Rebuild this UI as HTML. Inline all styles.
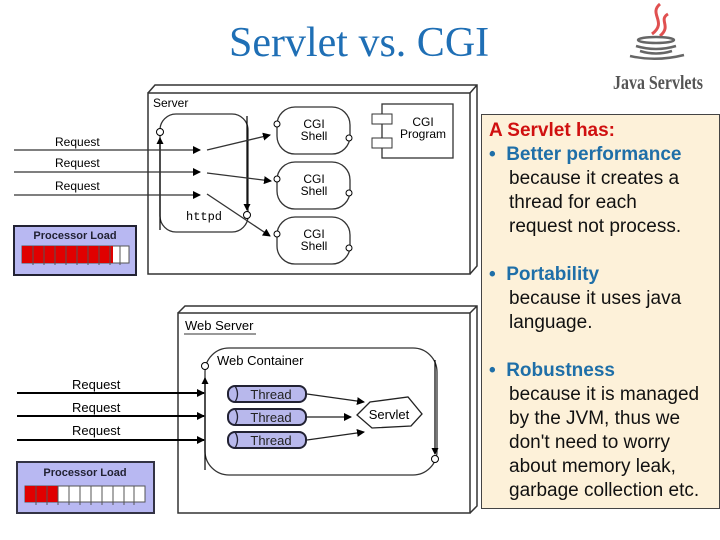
<!DOCTYPE html>
<html><head><style>
body{margin:0;width:720px;height:540px;background:#fff;overflow:hidden;position:relative;font-family:"Liberation Sans",sans-serif}
.t{position:absolute;left:229px;top:19px;font-family:"Liberation Serif",serif;font-size:42px;color:#1f6fb5;white-space:nowrap}
.box{position:absolute;left:481px;top:114px;width:239px;height:395px;background:#fdf1d9;border:1px solid #444;box-sizing:border-box;font-size:19px;line-height:24px;padding:4px 0 0 7px;color:#111;white-space:nowrap}
.box p{margin:0}
.r{color:#d01010;font-weight:bold}
.b{color:#1f6fa8;font-weight:bold}
.i{padding-left:20px}
</style></head><body>
<div class="t">Servlet vs. CGI</div>
<div class="box">
<p class="r">A Servlet has:</p>
<p><span class="b">•&nbsp;&nbsp;Better performance</span></p>
<p class="i">because it creates a<br>thread for each<br>request not process.</p>
<p style="height:24px"></p>
<p><span class="b">•&nbsp;&nbsp;Portability</span></p>
<p class="i">because it uses java<br>language.</p>
<p style="height:24px"></p>
<p><span class="b">•&nbsp;&nbsp;Robustness</span></p>
<p class="i">because it is managed<br>by the JVM, thus we<br>don't need to worry<br>about memory leak,<br>garbage collection etc.</p>
</div>
<svg width="720" height="540" style="position:absolute;left:0;top:0" font-family="Liberation Sans, sans-serif">
<defs><marker id="a" markerWidth="8" markerHeight="8" refX="7" refY="4" orient="auto" markerUnits="userSpaceOnUse"><path d="M0,0L8,4L0,8z" fill="#000"/></marker>
<marker id="s" markerWidth="7" markerHeight="7" refX="6" refY="3.5" orient="auto" markerUnits="userSpaceOnUse"><path d="M0,0L7,3.5L0,7z" fill="#000"/></marker></defs>
<g fill="none" stroke="#e05050" stroke-width="3"><path d="M660,4 C648,14 668,22 652,34"/><path d="M668,14 C658,20 672,26 660,36"/></g>
<g fill="none" stroke="#666" stroke-width="2.5"><ellipse cx="656" cy="40" rx="18" ry="3"/><path d="M636,46 Q656,52 676,46"/><path d="M640,51 Q656,56 672,51"/><path d="M630,56 Q656,62 684,55"/></g>
<text x="613" y="89" font-family="Liberation Serif, serif" font-weight="bold" font-size="20" fill="#555" textLength="90" lengthAdjust="spacingAndGlyphs">Java Servlets</text>
<g stroke="#333" fill="#fff" stroke-width="1.5">
<path d="M148,93 L155,85 L477,85 L477,266 L470,274 M470,93 L477,85" fill="#fff"/>
<rect x="148" y="93" width="322" height="181"/>
</g>
<text x="153" y="107" font-size="12">Server</text>
<rect x="160" y="114" width="88" height="118" rx="16" fill="none" stroke="#333" stroke-width="1.3"/>
<text x="186" y="220" font-family="Liberation Mono, monospace" font-size="12">httpd</text>
<line x1="160" y1="230" x2="160" y2="138" stroke="#000" stroke-width="1.2" marker-end="url(#s)"/>
<circle cx="160" cy="132" r="3.5" fill="#fff" stroke="#000"/>
<line x1="247" y1="116" x2="247" y2="210" stroke="#000" stroke-width="1.2" marker-end="url(#s)"/>
<circle cx="247" cy="215" r="3.5" fill="#fff" stroke="#000"/>
<g font-size="12" text-anchor="middle">
<g stroke="#333" fill="none" stroke-width="1.3">
<rect x="277" y="107" width="73" height="47" rx="18"/><rect x="277" y="162" width="73" height="47" rx="18"/><rect x="277" y="217" width="73" height="47" rx="18"/>
</g>
<text x="314" y="128">CGI</text><text x="314" y="140">Shell</text>
<text x="314" y="183">CGI</text><text x="314" y="195">Shell</text>
<text x="314" y="238">CGI</text><text x="314" y="250">Shell</text>
</g>
<g fill="#fff" stroke="#000"><circle cx="277" cy="124" r="3"/><circle cx="349" cy="138" r="3"/><circle cx="277" cy="179" r="3"/><circle cx="349" cy="193" r="3"/><circle cx="277" cy="234" r="3"/><circle cx="349" cy="248" r="3"/></g>
<rect x="382" y="104" width="71" height="54" fill="#fff" stroke="#333" stroke-width="1.3"/>
<rect x="372" y="114" width="20" height="10" fill="#fff" stroke="#333"/><rect x="372" y="138" width="20" height="10" fill="#fff" stroke="#333"/>
<text x="423" y="126" font-size="12" text-anchor="middle">CGI</text><text x="423" y="138" font-size="12" text-anchor="middle">Program</text>
<g stroke="#333" stroke-width="1.3"><line x1="14" y1="150" x2="200" y2="150" marker-end="url(#a)"/><line x1="14" y1="172" x2="200" y2="172" marker-end="url(#a)"/><line x1="14" y1="195" x2="200" y2="195" marker-end="url(#a)"/>
<line x1="207" y1="150" x2="270" y2="135" marker-end="url(#a)"/><line x1="207" y1="173" x2="271" y2="181" marker-end="url(#a)"/><line x1="207" y1="194" x2="270" y2="236" marker-end="url(#a)"/></g>
<g font-size="12"><text x="55" y="146">Request</text><text x="55" y="167">Request</text><text x="55" y="190">Request</text></g>
<rect x="14" y="226" width="122" height="49" fill="#b8b8f2" stroke="#223" stroke-width="2"/>
<text x="75" y="239" font-size="11" font-weight="bold" text-anchor="middle" fill="#223">Processor Load</text>
<rect x="22" y="246" width="107" height="17" fill="#fff" stroke="#555"/>
<rect x="22" y="246" width="91" height="17" fill="#e00000"/>
<g stroke="#555"><path d="M33,246v19M44,246v19M55,246v19M66,246v19M77,246v19M88,246v19M99,246v19M110,246v19M120,246v19"/></g>
<g stroke="#333" fill="#fff" stroke-width="1.5">
<path d="M178,313 L185,306 L477,306 L477,506 L470,513 M470,313 L477,306"/>
<rect x="178" y="313" width="292" height="200"/>
</g>
<text x="185" y="330" font-size="13">Web Server</text>
<line x1="184" y1="334" x2="256" y2="334" stroke="#333"/>
<rect x="205" y="348" width="232" height="127" rx="24" fill="none" stroke="#333" stroke-width="1.3"/>
<text x="217" y="365" font-size="13">Web Container</text>
<line x1="205" y1="470" x2="205" y2="378" stroke="#000" stroke-width="1.2" marker-end="url(#s)"/>
<circle cx="205" cy="366" r="3.5" fill="#fff" stroke="#000"/>
<line x1="435" y1="360" x2="435" y2="454" stroke="#000" stroke-width="1.2" marker-end="url(#s)"/>
<circle cx="435" cy="459" r="3.5" fill="#fff" stroke="#000"/>
<g stroke="#000" stroke-width="2"><line x1="17" y1="393" x2="204" y2="393" marker-end="url(#a)"/><line x1="17" y1="416" x2="204" y2="416" marker-end="url(#a)"/><line x1="17" y1="440" x2="204" y2="440" marker-end="url(#a)"/></g>
<g font-size="13"><text x="72" y="389">Request</text><text x="72" y="412">Request</text><text x="72" y="435">Request</text></g>
<g stroke="#223" stroke-width="2" fill="#b8b8ec">
<rect x="228" y="386" width="78" height="16" rx="7"/><rect x="228" y="409" width="78" height="16" rx="7"/><rect x="228" y="432" width="78" height="16" rx="7"/>
</g>
<g stroke="#223" fill="none" stroke-width="1.3"><path d="M235,386q5,8 0,16M235,409q5,8 0,16M235,432q5,8 0,16"/></g>
<g font-size="13" text-anchor="middle" fill="#222"><text x="271" y="399">Thread</text><text x="271" y="422">Thread</text><text x="271" y="445">Thread</text></g>
<g stroke="#222" stroke-width="1.3"><line x1="307" y1="394" x2="364" y2="402" marker-end="url(#a)"/><line x1="307" y1="417" x2="351" y2="417" marker-end="url(#a)"/><line x1="307" y1="440" x2="364" y2="432" marker-end="url(#a)"/></g>
<path d="M357,415 L370,402 L408,397 L422,414 L411,426 L372,428z" fill="#fff" stroke="#222" stroke-width="1.3"/>
<text x="389" y="419" font-size="13" text-anchor="middle">Servlet</text>
<rect x="17" y="462" width="137" height="51" fill="#b8b8f2" stroke="#334" stroke-width="2"/>
<text x="85" y="476" font-size="11" font-weight="bold" text-anchor="middle" fill="#223">Processor Load</text>
<rect x="25" y="486" width="120" height="16" fill="#fff" stroke="#555"/>
<rect x="25" y="486" width="33" height="16" fill="#e00000"/>
<g stroke="#555"><path d="M36,486v19M47,486v19M58,486v19M69,486v19M80,486v19M91,486v19M102,486v19M113,486v19M124,486v19M134,486v19"/></g>
</svg>
</body></html>
